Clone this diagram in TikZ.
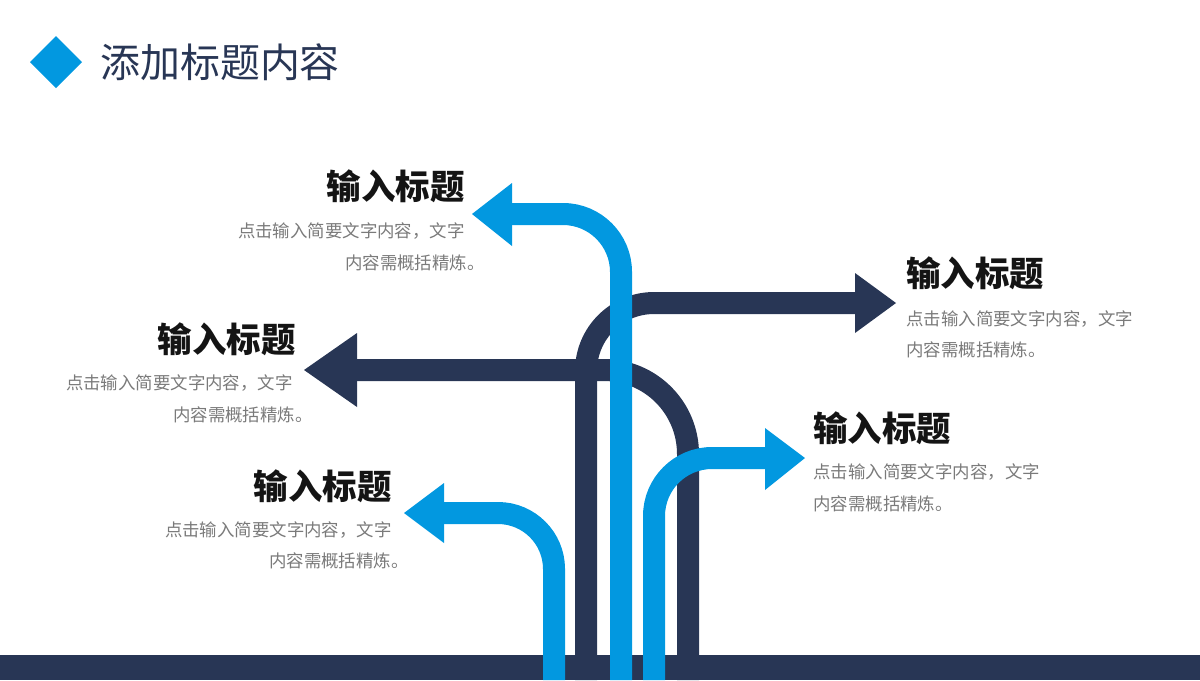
\documentclass[tikz,border=0pt]{standalone}
\usepackage{fontspec}
\setmainfont{Noto Sans CJK SC}
\usepackage{xcolor}
\usepackage{tikz}
\usetikzlibrary{positioning}

\definecolor{navy}{RGB}{40,54,85}
\definecolor{skyblue}{RGB}{2,152,224}
\definecolor{txtgray}{RGB}{122,122,122}

\begin{document}
\begin{tikzpicture}[x=0.025cm, y=-0.025cm,
    darkline/.style={draw=navy, line width=0.55cm},
    blueline/.style={draw=skyblue, line width=0.55cm},
    ttl/.style={font=\fontsize{24.5pt}{28pt}\selectfont\bfseries, text=black!92, inner sep=0pt},
    desc/.style={font=\fontsize{12.4pt}{15pt}\selectfont, text=txtgray, inner sep=0pt}]
    \useasboundingbox (0,0) rectangle (1200,680);

    % page title
    \fill[skyblue] (56,36) -- (82,62) -- (56,88) -- (30,62) -- cycle;
    \node[anchor=west, inner sep=0pt, text=navy, font=\fontsize{28.4pt}{32pt}\selectfont] (pagetitle) at (100,62) {添加标题内容};

    % ground bar
    \fill[navy] (0,655) rectangle (1200,680);

    % dark shafts
    \draw[darkline, rounded corners=1.7cm] (586,680) |- (856,303);
    \draw[darkline, rounded corners=2.1cm] (688,680) |- (356,370);
    \fill[navy] (855,273) -- (896,303) -- (855,333) -- cycle;
    \fill[navy] (357,333) -- (304,370) -- (357,407) -- cycle;

    % blue shafts
    \draw[blueline, rounded corners=1.45cm] (621,680) |- (511,214);
    \draw[blueline, rounded corners=1.45cm] (654,680) |- (766,458);
    \draw[blueline, rounded corners=1.4cm] (554,680) |- (443,513);
    \fill[skyblue] (512,183) -- (472,214) -- (512,246) -- cycle;
    \fill[skyblue] (765,428) -- (805,458) -- (765,490) -- cycle;
    \fill[skyblue] (444,483) -- (404,513) -- (444,543) -- cycle;

    % left side texts
    \node[ttl, anchor=east] (h1) at (465,186) {输入标题};
    \node[desc, anchor=east] (d1a) at (465,231) {点击输入简要文字内容，文字};
    \node[desc, anchor=east] (d1b) at (485,263) {内容需概括精炼。};

    \node[ttl, anchor=east] (h2) at (296,339) {输入标题};
    \node[desc, anchor=east] (d2a) at (293,383) {点击输入简要文字内容，文字};
    \node[desc, anchor=east] (d2b) at (313,415) {内容需概括精炼。};

    \node[ttl, anchor=east] (h3) at (392,486) {输入标题};
    \node[desc, anchor=east] (d3a) at (392,530) {点击输入简要文字内容，文字};
    \node[desc, anchor=east] (d3b) at (409,561) {内容需概括精炼。};

    % right side texts
    \node[ttl, anchor=west] (h4) at (906,273) {输入标题};
    \node[desc, anchor=west] (d4a) at (906,319) {点击输入简要文字内容，文字};
    \node[desc, anchor=west] (d4b) at (906,350) {内容需概括精炼。};

    \node[ttl, anchor=west] (h5) at (813,428) {输入标题};
    \node[desc, anchor=west] (d5a) at (813,472) {点击输入简要文字内容，文字};
    \node[desc, anchor=west] (d5b) at (813,504) {内容需概括精炼。};
\end{tikzpicture}
\end{document}
